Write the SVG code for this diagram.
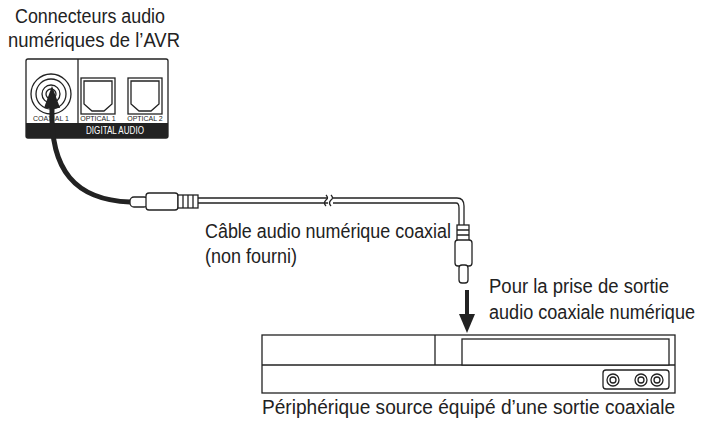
<svg xmlns="http://www.w3.org/2000/svg" width="703" height="423" viewBox="0 0 703 423">
<style>
.t{font-family:"Liberation Sans",Arial,sans-serif;font-size:20px;fill:#222}
.s{font-family:"Liberation Sans",Arial,sans-serif;font-size:7px;fill:#222}
.o{fill:#fff;stroke:#222;stroke-width:1.3}
.l{fill:none;stroke:#222;stroke-width:1.3}
</style>
<rect width="703" height="423" fill="#fff"/>
<g id="title"><text class="t" x="90" y="23" text-anchor="middle" textLength="150" lengthAdjust="spacingAndGlyphs">Connecteurs audio</text>
<text class="t" x="94" y="47" text-anchor="middle" textLength="172" lengthAdjust="spacingAndGlyphs">numériques de l’AVR</text></g>
<g id="avr">
<rect class="o" x="26" y="59" width="142" height="79" rx="2"/>
<rect x="26" y="123" width="142" height="15" fill="#222"/>
<text x="115" y="134" font-family="Liberation Sans,sans-serif" font-size="10" fill="#fff" text-anchor="middle" textLength="58" lengthAdjust="spacingAndGlyphs">DIGITAL AUDIO</text>
<line class="l" x1="78" y1="59" x2="78" y2="123"/>
<circle class="l" cx="51" cy="94" r="20" stroke-width="2.5"/>
<circle class="l" cx="51" cy="94" r="15"/>
<circle class="l" cx="51" cy="94" r="9"/>
<circle class="l" cx="51" cy="94" r="5"/>
<rect class="o" x="81" y="78" width="34" height="36"/>
<path class="l" d="M84 81 H112 V104 L104 111 H92 L84 104 Z"/>
<rect class="o" x="128" y="78" width="34" height="36"/>
<path class="l" d="M131 81 H159 V104 L151 111 H139 L131 104 Z"/>
<text class="s" x="51" y="121" text-anchor="middle">COAXIAL 1</text>
<text class="s" x="98" y="121" text-anchor="middle">OPTICAL 1</text>
<text class="s" x="145" y="121" text-anchor="middle">OPTICAL 2</text>
</g>
<g id="connectors">
<path d="M130 202 C75 200 50 170 52 108" fill="none" stroke="#222" stroke-width="5"/>
<polygon points="52,86 44,108 60,108" fill="#222"/>
<rect class="o" x="130" y="197" width="18" height="10" rx="4"/>
<rect class="o" x="146" y="193" width="32" height="17" rx="3"/>
<rect class="o" x="178" y="195" width="20" height="13"/>
<path class="l" d="M183 195V208M188 195V208M193 195V208"/>
<path class="l" d="M198 198 H328 M198 203 H328 M333 198 H457 Q464 198 464 206 V225 M333 203 H456 Q459 203 459 208 V225"/>
<path class="l" d="M326 195 q3 3 0 5 q-3 3 0 6 M331 195 q3 3 0 5 q-3 3 0 6"/>
<rect class="o" x="457" y="225" width="12" height="16"/>
<path class="l" d="M457 230H469M457 235H469"/>
<rect class="o" x="455" y="240" width="17" height="26" rx="3"/>
<rect class="o" x="459" y="265" width="9" height="18" rx="3"/>
<line x1="467" y1="290" x2="467" y2="316" stroke="#222" stroke-width="4"/>
<polygon points="467,333 459,314 475,314" fill="#222"/>
</g>
<g id="labels">
<text class="t" x="205" y="238" textLength="246" lengthAdjust="spacingAndGlyphs">Câble audio numérique coaxial</text>
<text class="t" x="205" y="263" textLength="92" lengthAdjust="spacingAndGlyphs">(non fourni)</text>
<text class="t" x="489" y="293" textLength="180" lengthAdjust="spacingAndGlyphs">Pour la prise de sortie</text>
<text class="t" x="489" y="319" textLength="206" lengthAdjust="spacingAndGlyphs">audio coaxiale numérique</text>
</g>
<g id="device">
<rect class="o" x="262" y="335" width="413" height="58"/>
<line class="l" x1="262" y1="365" x2="675" y2="365"/>
<line class="l" x1="435" y1="335" x2="435" y2="365"/>
<rect class="o" x="462" y="339" width="207" height="26"/>
<rect class="o" x="603" y="370" width="66" height="19" rx="3"/>
<g class="l"><circle cx="613" cy="380" r="6"/><circle cx="613" cy="380" r="3"/><circle cx="641" cy="380" r="6"/><circle cx="641" cy="380" r="3"/><circle cx="657" cy="380" r="6"/><circle cx="657" cy="380" r="3"/></g>
<text class="t" x="262" y="414" textLength="413" lengthAdjust="spacingAndGlyphs">Périphérique source équipé d’une sortie coaxiale</text>
</g>
</svg>
